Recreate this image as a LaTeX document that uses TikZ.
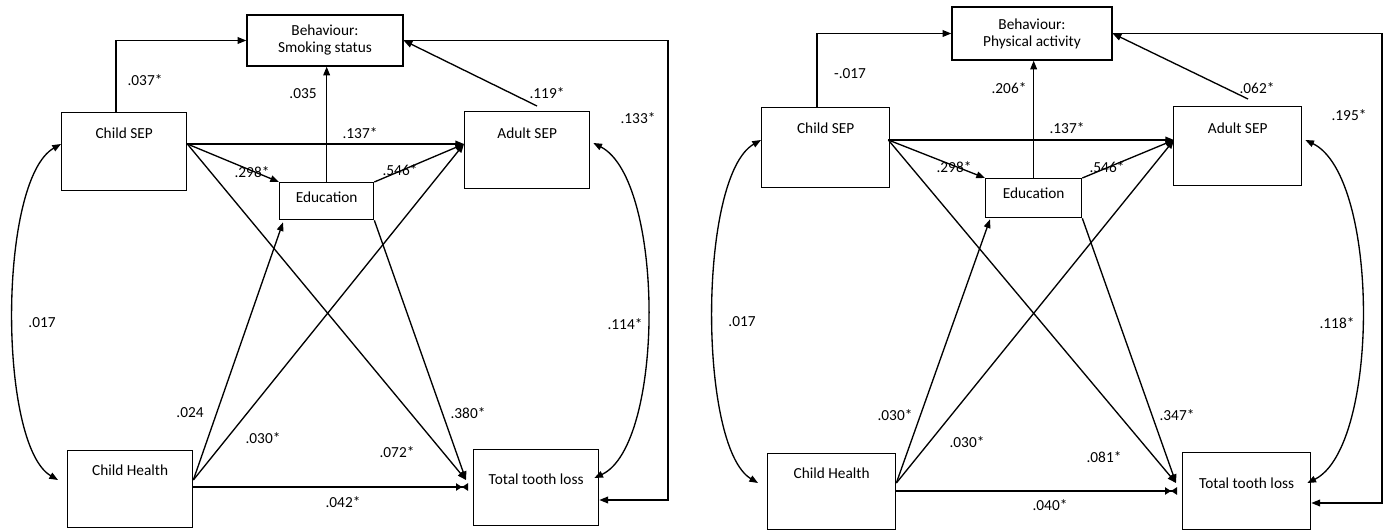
\documentclass[tikz,border=0pt]{standalone}
\usepackage{fontspec}
\setmainfont{Carlito}
\usetikzlibrary{arrows.meta,calc}
\tikzset{
  bx/.style n args={3}{draw, line width=1pt, inner sep=0pt, anchor=north west,
    minimum width=#1, text height=#2, text depth=#3, font=\fontsize{11.5}{13}\selectfont},
  bb/.style={draw, line width=1pt, inner sep=0pt, align=center,
    font=\fontsize{11.5}{12.75}\selectfont},
  arr/.style={line width=1pt, -{Triangle[length=6.5pt,width=5pt]}},
  dbl/.style={line width=1pt, {Triangle[length=6.5pt,width=5pt]}-{Triangle[length=6.5pt,width=5pt]}},
  bow/.style={line width=1pt, -{Triangle[length=4.5pt,width=5.5pt,sep=0pt]Triangle[length=4.5pt,width=5.5pt,reversed]}},
  lab/.style={font=\fontsize{11.5}{13}\selectfont, inner sep=0pt},
}
\begin{document}
\begin{tikzpicture}[x=0.75pt,y=-0.75pt]
\useasboundingbox (0,0) rectangle (1389,530);
\fill[white] (0,0) rectangle (1389,530);

% ---------------- left diagram ----------------
\node[bb, minimum width=117pt, minimum height=38.25pt] (B1) at (325,40.5) {Behaviour:\\Smoking status};
\node[bx={93.75pt}{19.5pt}{39pt}] (CS1) at (61,112) {Child SEP};
\node[bx={93.75pt}{20.25pt}{37.5pt}] (AS1) at (464,111) {Adult SEP};
\node[bx={70.5pt}{15pt}{12.75pt}] (ED1) at (279,182) {Education};
\node[bx={93.75pt}{18.75pt}{39pt}] (CH1) at (67,450) {Child Health};
\node[bx={93.75pt}{26.25pt}{30.75pt}] (TL1) at (473,449) {Total tooth loss};
\coordinate (LP1) at (668,500);

\draw[arr] ($(CS1.north west)+(55,0)$) |- (B1.west);
\draw[arr] (ED1.north) -- (ED1.north |- B1.south);
\draw[arr] ($(AS1.north west)+(73,-5)$) -- (B1.east);
\draw[arr] (B1.east) -| (LP1) -- ($(TL1.north east)+(0,51)$);
\draw[arr] ($(CS1.north east)+(0,32)$) -- ($(AS1.north west)+(0,33)$);
\draw[arr] ($(CS1.north east)+(0,32)$) -- (ED1.north west);
\draw[arr] (ED1.north east) -- ($(AS1.north west)+(0,33)$);
\draw[arr] ($(CS1.north east)+(0,32)$) -- ($(TL1.north west)+(-7,31)$);
\draw[arr] (ED1.south east) -- ($(TL1.north west)+(-7,31)$);
\draw[arr] ($(CH1.north east)+(0,30)$) -- ($(ED1.south west)+(4,2)$);
\draw[arr] ($(CH1.north east)+(0,30)$) -- ($(AS1.north west)+(0,33)$);
\draw[bow] ($(CH1.north east)+(0,37)$) -- ($(TL1.north west)+(-5,38)$);
\draw[dbl] ($(CS1.north west)+(0,32)$) .. controls (-2,180) and (-2,445) .. ($(CH1.north west)+(-9,30)$);
\draw[dbl] ($(AS1.north east)+(3,32)$) .. controls (665,180) and (665,445) .. ($(TL1.north east)+(-5,29)$);

\node[lab] (a1) at (145,80) {.037*};
\node[lab] (a2) at (303,94) {.035};
\node[lab] (a3) at (547,93) {.119*};
\node[lab] (a4) at (638,118) {.133*};
\node[lab] (a5) at (360,133) {.137*};
\node[lab] (a6) at (252,172) {.298*};
\node[lab] (a7) at (400,170) {.546*};
\node[lab] (a8) at (397,452) {.072*};
\node[lab] (a9) at (468,413) {.380*};
\node[lab] (a10) at (190,413) {.024};
\node[lab] (a11) at (263,438) {.030*};
\node[lab] (a12) at (343,502) {.042*};
\node[lab] (a13) at (42,323) {.017};
\node[lab] (a14) at (625,324) {.114*};

% ---------------- right diagram ----------------
\node[bb, minimum width=120pt, minimum height=39.75pt] (B2) at (1032,33.5) {Behaviour:\\Physical activity};
\node[bx={96pt}{19.5pt}{40.5pt}] (CS2) at (761,107) {Child SEP};
\node[bx={96pt}{20.25pt}{39pt}] (AS2) at (1173,106) {Adult SEP};
\node[bx={72pt}{15pt}{14.25pt}] (ED2) at (985,178) {Education};
\node[bx={96pt}{18.75pt}{38.25pt}] (CH2) at (767,453) {Child Health};
\node[bx={96pt}{27pt}{30.75pt}] (TL2) at (1182,452) {Total tooth loss};
\coordinate (LP2) at (1382,503);

\draw[arr] ($(CS2.north west)+(56,0)$) |- (B2.west);
\draw[arr] (ED2.north) -- (ED2.north |- B2.south);
\draw[arr] ($(AS2.north west)+(75,-7)$) -- (B2.east);
\draw[arr] (B2.east) -| (LP2) -- ($(TL2.north east)+(0,51)$);
\draw[arr] ($(CS2.north east)+(-2,33)$) -- ($(AS2.north west)+(1,34)$);
\draw[arr] ($(CS2.north east)+(-2,33)$) -- (ED2.north west);
\draw[arr] (ED2.north east) -- ($(AS2.north west)+(1,34)$);
\draw[arr] ($(CS2.north east)+(-2,33)$) -- ($(TL2.north west)+(-6,31)$);
\draw[arr] (ED2.south east) -- ($(TL2.north west)+(-6,31)$);
\draw[arr] ($(CH2.north east)+(0,30)$) -- ($(ED2.south west)+(5,1)$);
\draw[arr] ($(CH2.north east)+(0,30)$) -- ($(AS2.north west)+(1,34)$);
\draw[bow] ($(CH2.north east)+(0,38)$) -- ($(TL2.north west)+(-5,39)$);
\draw[dbl] ($(CS2.north west)+(0,33)$) .. controls (698,176) and (698,447) .. ($(CH2.north west)+(-9,30)$);
\draw[dbl] ($(AS2.north east)+(3,34)$) .. controls (1380,176) and (1380,447) .. ($(TL2.north east)+(-4,31)$);

\node[lab] (b1) at (850,74) {-.017};
\node[lab] (b2) at (1009,88) {.206*};
\node[lab] (b3) at (1257,88) {.062*};
\node[lab] (b4) at (1349,115) {.195*};
\node[lab] (b5) at (1067,128) {.137*};
\node[lab] (b6) at (954,167) {.298*};
\node[lab] (b7) at (1107,167) {.546*};
\node[lab] (b8) at (1104,457) {.081*};
\node[lab] (b9) at (1177,415) {.347*};
\node[lab] (b10) at (895,415) {.030*};
\node[lab] (b11) at (967,442) {.030*};
\node[lab] (b12) at (1050,505) {.040*};
\node[lab] (b13) at (742,322) {.017};
\node[lab] (b14) at (1337,323) {.118*};
\end{tikzpicture}
\end{document}
